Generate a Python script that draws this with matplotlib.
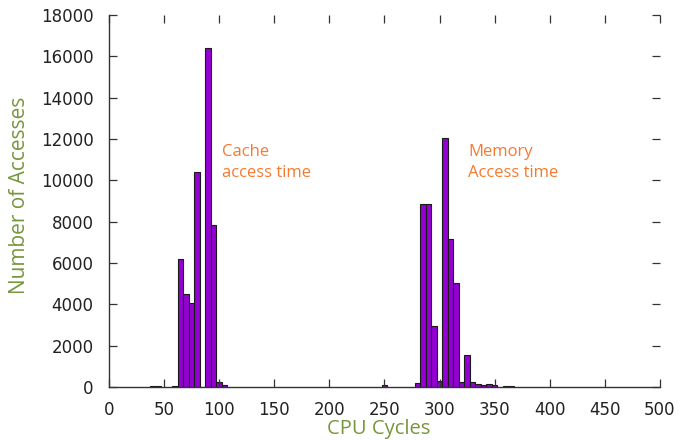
import matplotlib
matplotlib.use("Agg")
import matplotlib.pyplot as plt

# Histogram bins: centres (CPU cycles), width 5
bin_center = [40, 45, 60, 65, 70, 75, 80, 85, 90, 95, 100, 105,
              250,
              280, 285, 290, 295, 300, 305, 310, 315, 320, 325, 330, 335,
              340, 345, 350, 360, 365]
counts = [40, 40, 50, 6200, 4500, 4050, 10400, 0, 16400, 7850, 250, 100,
          100,
          180, 8850, 8850, 2950, 300, 12050, 7150, 5050, 250, 1550, 250, 150,
          100, 150, 80, 30, 30]
bin_width = 5

x_ticks = [0, 50, 100, 150, 200, 250, 300, 350, 400, 450, 500]
y_ticks = [0, 2000, 4000, 6000, 8000, 10000, 12000, 14000, 16000, 18000]

fig = plt.figure(figsize=(6.82, 4.40), dpi=100)
ax = fig.add_axes([0.1598, 0.1205, 0.8079, 0.8454])

ax.bar(bin_center, counts, width=bin_width, align='center',
       color='#9400D3', edgecolor='#1a1a1a', linewidth=0.8)

ax.set_xlim(0, 500)
ax.set_ylim(0, 18000)
ax.set_xticks(x_ticks)
ax.set_yticks(y_ticks)

for s in ['top', 'right']:
    ax.spines[s].set_visible(False)
for s in ['left', 'bottom']:
    ax.spines[s].set_color('#333333')
    ax.spines[s].set_linewidth(1.0)

ax.tick_params(direction='in', top=True, right=True, length=6, width=0.9,
               color='#333333', labelsize=12, labelcolor='#222222')
ax.tick_params(axis='x', pad=10)
ax.tick_params(axis='y', pad=11)

green = '#76963c'
ax.set_xlabel('CPU Cycles', fontsize=14.5, color=green, family='Open Sans', labelpad=0)
ax.set_ylabel('Number of Accesses', fontsize=15, color=green, family='Open Sans', labelpad=8)
ax.xaxis.label.set_x(0.49)
ax.yaxis.label.set_y(0.516)

orange = '#f47a30'
ax.text(102.3, 11750, 'Cache\naccess time', fontsize=12, color=orange,
        family='Open Sans', va='top', ha='left', linespacing=1.4)
ax.text(326, 11750, 'Memory\nAccess time', fontsize=12, color=orange,
        family='Open Sans', va='top', ha='left', linespacing=1.4)

fig.savefig('out.png', dpi=100)
